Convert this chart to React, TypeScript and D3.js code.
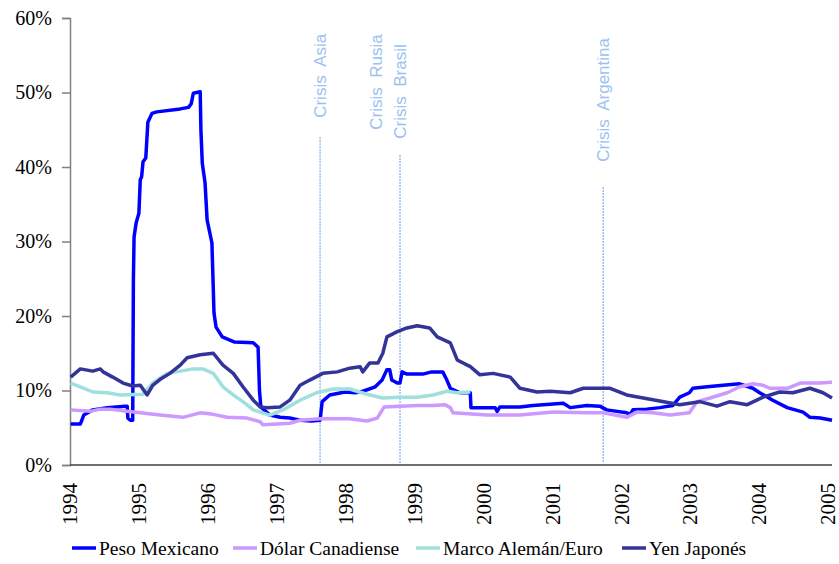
import React, { useEffect, useRef } from "react";
import * as d3 from "d3";

// [year, % volatility]
const pesoMexicano: [number, number][] = [
  [1994.01, 5.5], [1994.15, 5.5], [1994.2, 6.7], [1994.33, 7.4], [1994.54, 7.7], [1994.8, 7.9],
  [1994.83, 7.9], [1994.84, 6.3], [1994.88, 6.0], [1994.91, 6.0], [1994.92, 24.8], [1994.93, 30.6],
  [1994.96, 32.5], [1995.0, 33.8], [1995.02, 38.3], [1995.04, 38.7], [1995.06, 40.7], [1995.1, 41.2],
  [1995.13, 46.0], [1995.19, 47.2], [1995.26, 47.4], [1995.6, 47.8], [1995.72, 48.0], [1995.76, 48.5],
  [1995.79, 49.9], [1995.89, 50.1], [1995.9, 45.0], [1995.92, 40.5], [1995.96, 37.9], [1995.99, 32.9],
  [1996.06, 29.8], [1996.09, 20.4], [1996.12, 18.5], [1996.21, 17.2], [1996.39, 16.5], [1996.66, 16.4],
  [1996.73, 15.8], [1996.75, 10.0], [1996.77, 7.8], [1996.9, 6.7], [1997.05, 6.4], [1997.19, 6.3],
  [1997.34, 6.0], [1997.5, 5.9], [1997.63, 6.0], [1997.66, 8.5], [1997.77, 9.4], [1997.99, 9.8],
  [1998.14, 9.7], [1998.25, 9.9], [1998.43, 10.5], [1998.53, 11.4], [1998.6, 12.8], [1998.64, 12.8],
  [1998.67, 11.4], [1998.75, 11.0], [1998.79, 11.0], [1998.82, 12.5], [1998.89, 12.2], [1999.12, 12.2],
  [1999.25, 12.5], [1999.41, 12.5], [1999.47, 11.4], [1999.52, 10.3], [1999.66, 9.7], [1999.81, 9.7],
  [1999.82, 7.7], [2000.17, 7.7], [2000.2, 7.2], [2000.24, 7.8], [2000.53, 7.8], [2000.72, 8.0],
  [2001.16, 8.3], [2001.26, 7.7], [2001.5, 8.0], [2001.69, 7.9], [2001.79, 7.4], [2002.08, 7.0],
  [2002.13, 6.8], [2002.17, 7.4], [2002.37, 7.5], [2002.56, 7.7], [2002.75, 8.0], [2002.85, 9.1],
  [2002.99, 9.7], [2003.04, 10.3], [2003.25, 10.5], [2003.48, 10.7], [2003.72, 10.9], [2003.91, 10.3],
  [2004.01, 9.7], [2004.2, 8.7], [2004.41, 7.7], [2004.64, 7.1], [2004.74, 6.4], [2004.89, 6.3],
  [2005.06, 6.0],
];

const dolarCanadiense: [number, number][] = [
  [1994.01, 7.4], [1994.29, 7.2], [1994.44, 7.5], [1994.58, 7.5], [1994.83, 7.2], [1995.02, 7.0],
  [1995.31, 6.7], [1995.64, 6.4], [1995.89, 7.0], [1996.08, 6.8], [1996.28, 6.4], [1996.57, 6.3],
  [1996.76, 5.8], [1996.8, 5.4], [1997.19, 5.6], [1997.34, 6.0], [1997.63, 6.2], [1998.06, 6.2],
  [1998.31, 5.9], [1998.46, 6.3], [1998.56, 7.8], [1999.04, 8.0], [1999.27, 8.0], [1999.44, 8.1],
  [1999.52, 7.7], [1999.56, 7.0], [2000.05, 6.7], [2000.53, 6.7], [2001.01, 7.1], [2001.5, 7.0],
  [2001.74, 7.0], [2002.08, 6.4], [2002.23, 7.1], [2002.46, 7.0], [2002.71, 6.7], [2002.99, 7.0],
  [2003.1, 8.5], [2003.29, 9.0], [2003.54, 9.7], [2003.72, 10.5], [2003.91, 10.9], [2004.06, 10.7],
  [2004.16, 10.3], [2004.41, 10.3], [2004.6, 11.0], [2004.89, 11.0], [2005.06, 11.1],
];

const marcoEuro: [number, number][] = [
  [1994.01, 11.0], [1994.15, 10.5], [1994.33, 9.8], [1994.54, 9.7], [1994.73, 9.4], [1995.06, 9.5],
  [1995.2, 11.0], [1995.41, 12.3], [1995.6, 12.6], [1995.79, 12.9], [1995.93, 12.9], [1996.08, 12.3],
  [1996.22, 10.5], [1996.37, 9.4], [1996.51, 8.5], [1996.66, 7.4], [1996.76, 7.1], [1996.9, 6.7],
  [1997.09, 7.4], [1997.34, 8.7], [1997.58, 9.7], [1997.82, 10.2], [1998.06, 10.2], [1998.31, 9.5],
  [1998.54, 9.0], [1998.79, 9.1], [1999.04, 9.1], [1999.27, 9.4], [1999.47, 9.9], [1999.62, 9.7],
  [1999.81, 9.8],
];

const yenJapones: [number, number][] = [
  [1994.01, 11.8], [1994.15, 12.9], [1994.33, 12.6], [1994.44, 12.9], [1994.48, 12.5], [1994.62, 11.8],
  [1994.77, 11.0], [1994.91, 10.6], [1995.02, 10.7], [1995.12, 9.4], [1995.2, 10.7], [1995.31, 11.5],
  [1995.45, 12.3], [1995.6, 13.4], [1995.7, 14.4], [1995.89, 14.8], [1996.08, 15.0], [1996.22, 13.4],
  [1996.37, 12.3], [1996.51, 10.5], [1996.66, 8.7], [1996.76, 7.8], [1996.86, 7.7], [1997.05, 7.8],
  [1997.19, 8.7], [1997.34, 10.7], [1997.48, 11.4], [1997.67, 12.3], [1997.88, 12.5], [1998.06, 13.0],
  [1998.21, 13.2], [1998.25, 12.5], [1998.35, 13.7], [1998.47, 13.7], [1998.54, 15.0], [1998.6, 17.2],
  [1998.75, 17.9], [1998.89, 18.4], [1999.04, 18.7], [1999.22, 18.4], [1999.33, 17.2], [1999.52, 16.4],
  [1999.62, 14.1], [1999.81, 13.2], [1999.95, 12.1], [2000.14, 12.3], [2000.39, 11.8], [2000.53, 10.3],
  [2000.78, 9.8], [2000.97, 9.9], [2001.26, 9.7], [2001.45, 10.3], [2001.84, 10.3], [2002.08, 9.4],
  [2002.32, 9.0], [2002.56, 8.6], [2002.85, 8.1], [2003.14, 8.5], [2003.39, 7.9], [2003.58, 8.5],
  [2003.83, 8.1], [2004.06, 9.1], [2004.3, 9.8], [2004.49, 9.7], [2004.74, 10.3], [2004.93, 9.7],
  [2005.06, 9.0],
];

const seriesNames = ["Peso Mexicano", "Dólar Canadiense", "Marco Alemán/Euro", "Yen Japonés"];
const seriesColors = ["#0000FF", "#CC99FF", "#9FE0DE", "#333399"];
const seriesData = [pesoMexicano, dolarCanadiense, marcoEuro, yenJapones];

const yearTicks = d3.range(1994, 2006);
const pctTicks = [0, 10, 20, 30, 40, 50, 60];

// crisis markers: label, date, top of dotted line (%), bottom of label (%)
const crisisLabels = ["Crisis  Asia", "Crisis  Rusia", "Crisis  Brasil", "Crisis  Argentina"];
const crisisDates = [1997.63, 1998.44, 1998.79, 2001.74];
const crisisLineTop: (number | null)[] = [44.0, null, 41.6, 37.3];
const crisisLabelBottom = [46.6, 45.0, 43.8, 40.7];

const W = 839;
const H = 564;
const SERIF = "Liberation Serif, Times New Roman, serif";
const SANS = "Liberation Sans, Arial, sans-serif";

export default function App() {
  const ref = useRef<SVGSVGElement>(null);

  useEffect(() => {
    document.body.style.margin = "0";
    const svg = d3.select(ref.current);
    svg.selectAll("*").remove();

    const x = d3.scaleLinear().domain([1994, 2005.06]).range([70, 832]);
    const y = d3.scaleLinear().domain([0, 60]).range([465, 18]);

    // crisis lines
    crisisDates.forEach((d, i) => {
      const top = crisisLineTop[i];
      if (top !== null) {
        svg.append("line")
          .attr("x1", x(d)).attr("x2", x(d))
          .attr("y1", y(top)).attr("y2", y(0) - 2)
          .attr("stroke", "#99C0EE")
          .attr("stroke-width", 1.5)
          .attr("stroke-dasharray", "2,1");
      }
      svg.append("text")
        .attr("transform", `translate(${x(d)},${y(crisisLabelBottom[i])}) rotate(-90)`)
        .attr("dy", "0.35em")
        .attr("fill", "#9AC2F0")
        .attr("font-family", SANS)
        .attr("font-size", 17)
        .style("white-space", "pre")
        .text(crisisLabels[i]);
    });

    // y axis
    const yAxis = svg.append("g")
      .attr("transform", "translate(70,0)")
      .call(d3.axisLeft(y).tickValues(pctTicks).tickSize(8).tickPadding(10).tickFormat(d => `${d}%`));
    yAxis.select(".domain").attr("stroke", "#808080").attr("stroke-width", 1.5);
    yAxis.selectAll(".tick line").attr("stroke", "#808080").attr("stroke-width", 1.5);
    yAxis.selectAll("text")
      .attr("font-family", SERIF)
      .attr("font-size", 20)
      .attr("fill", "#000");

    // x axis
    svg.append("line")
      .attr("x1", 70).attr("x2", 832)
      .attr("y1", y(0)).attr("y2", y(0))
      .attr("stroke", "#404040")
      .attr("stroke-width", 1.5);

    svg.append("g")
      .selectAll("text")
      .data(yearTicks)
      .enter()
      .append("text")
      .attr("transform", d => `translate(${x(d)},483) rotate(-90)`)
      .attr("dy", "0.35em")
      .attr("text-anchor", "end")
      .attr("font-family", SERIF)
      .attr("font-size", 21)
      .attr("fill", "#000")
      .text(d => d);

    // series
    const line = d3.line<[number, number]>()
      .x(d => x(d[0]))
      .y(d => y(d[1]));

    seriesData.forEach((s, i) => {
      svg.append("path")
        .datum(s)
        .attr("d", line)
        .attr("fill", "none")
        .attr("stroke", seriesColors[i])
        .attr("stroke-width", 3.5)
        .attr("stroke-linejoin", "round");
    });

    // legend
    const legendX = [72, 233, 416, 622];
    const legend = svg.append("g").attr("transform", "translate(0,548)");
    seriesNames.forEach((name, i) => {
      legend.append("line")
        .attr("x1", legendX[i]).attr("x2", legendX[i] + 24)
        .attr("y1", 0).attr("y2", 0)
        .attr("stroke", seriesColors[i])
        .attr("stroke-width", 3.5);
      legend.append("text")
        .attr("x", legendX[i] + 27)
        .attr("y", 0)
        .attr("dy", "0.35em")
        .attr("font-family", SERIF)
        .attr("font-size", 19.5)
        .attr("fill", "#000")
        .text(name);
    });
  }, []);

  return <svg ref={ref} width={W} height={H} style={{ display: "block", background: "#fff" }} />;
}
